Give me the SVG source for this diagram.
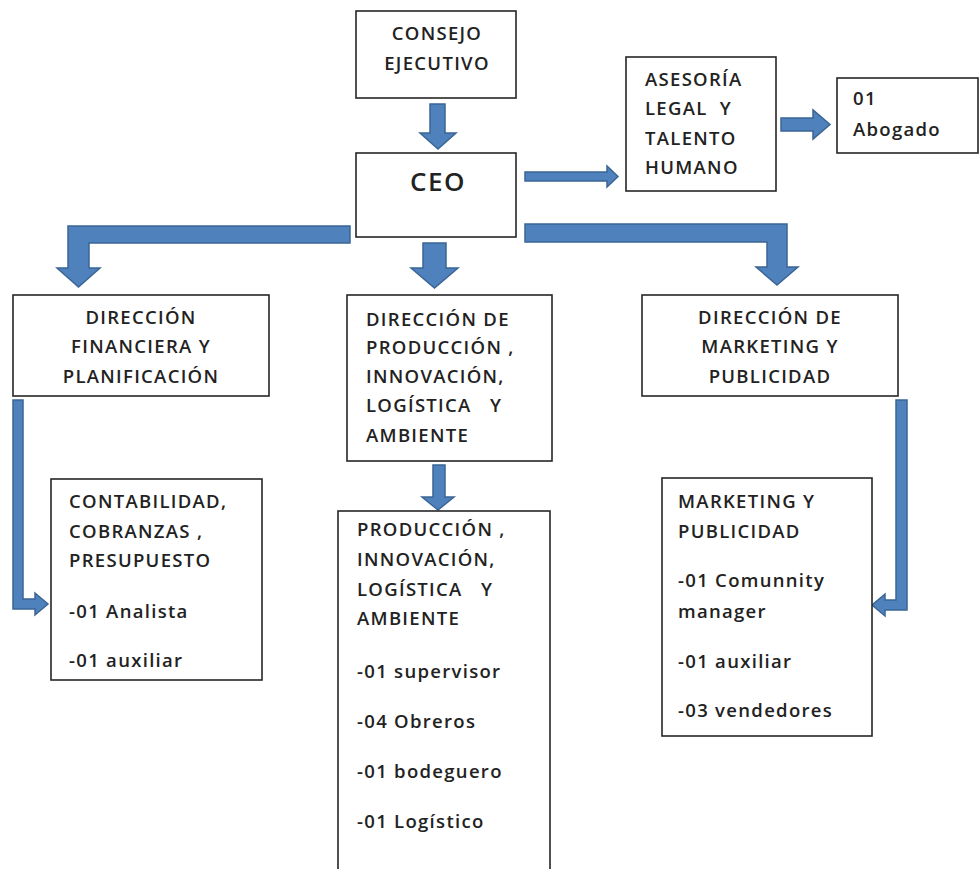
<svg xmlns="http://www.w3.org/2000/svg" width="979" height="869" viewBox="0 0 979 869">
<style>
.box{fill:#fff;stroke:#262626;stroke-width:1.6}
.t{font-family:"Open Sans","Noto Sans",sans-serif;font-size:18.5px;font-weight:600;letter-spacing:1.3px;fill:#222}
.c{text-anchor:middle}
.arr{fill:#4F81BD;stroke:#3A6595;stroke-width:1.5;stroke-linejoin:miter}
</style>
<rect width="979" height="869" fill="#fff"/>
<g id="connectors">
<polygon class="arr" points="430,104 445,104 445,133 456,133 438,149 420,133 430,133"/>
<polygon class="arr" points="525,172 607,172 607,166 618,176.5 607,187 607,181 525,181"/>
<polygon class="arr" points="781,118 813,118 813,110 830,124.5 813,139 813,131 781,131"/>
<polygon class="arr" points="350,226 68,226 68,268 57,268 78.5,287 100,268 89,268 89,243 350,243"/>
<polygon class="arr" points="423,243 446,243 446,268 458,268 434.5,288 411,268 423,268"/>
<polygon class="arr" points="525,224 787,224 787,267 798,267 777,285 756,267 767,267 767,242 525,242"/>
<polygon class="arr" points="433,465 445,465 445,497 454,497 438,510 422,497 433,497"/>
<polygon class="arr" points="13,400 23,400 23,599 35,599 35,593 48,604 35,615 35,609 13,609"/>
<polygon class="arr" points="896,400 907,400 907,610 885,610 885,616 872,605 885,594 885,600 896,600"/>
</g>
<g id="consejo">
<rect class="box" x="356" y="11" width="160" height="87"/>
<text class="t c" x="437" y="40">CONSEJO</text>
<text class="t c" x="437" y="70">EJECUTIVO</text>
</g>
<g id="ceo">
<rect class="box" x="356" y="153" width="160" height="84"/>
<text class="t c" x="438" y="191" style="font-size:26px;letter-spacing:1.5px">CEO</text>
</g>
<g id="asesoria">
<rect class="box" x="626" y="57" width="150" height="134"/>
<text class="t" x="645" y="86">ASESORÍA</text>
<text class="t" x="645" y="115" xml:space="preserve">LEGAL  Y</text>
<text class="t" x="645" y="145">TALENTO</text>
<text class="t" x="645" y="174">HUMANO</text>
</g>
<g id="abogado">
<rect class="box" x="837" y="78" width="141" height="75"/>
<text class="t" x="853" y="105">01</text>
<text class="t" x="853" y="136">Abogado</text>
</g>
<g id="dir-fin">
<rect class="box" x="13" y="295" width="256" height="101"/>
<text class="t c" x="141" y="324">DIRECCIÓN</text>
<text class="t c" x="141" y="353">FINANCIERA Y</text>
<text class="t c" x="141" y="383">PLANIFICACIÓN</text>
</g>
<g id="dir-prod">
<rect class="box" x="347" y="295" width="205" height="166"/>
<text class="t" x="366" y="326">DIRECCIÓN DE</text>
<text class="t" x="366" y="354">PRODUCCIÓN ,</text>
<text class="t" x="366" y="383">INNOVACIÓN,</text>
<text class="t" x="366" y="412" xml:space="preserve">LOGÍSTICA   Y</text>
<text class="t" x="366" y="442">AMBIENTE</text>
</g>
<g id="dir-mkt">
<rect class="box" x="642" y="295" width="256" height="101"/>
<text class="t c" x="770" y="324">DIRECCIÓN DE</text>
<text class="t c" x="770" y="353">MARKETING Y</text>
<text class="t c" x="770" y="383">PUBLICIDAD</text>
</g>
<g id="contabilidad">
<rect class="box" x="51" y="479" width="211" height="201"/>
<text class="t" x="69" y="508">CONTABILIDAD,</text>
<text class="t" x="69" y="538">COBRANZAS ,</text>
<text class="t" x="69" y="567">PRESUPUESTO</text>
<text class="t" x="69" y="618">-01 Analista</text>
<text class="t" x="69" y="667">-01 auxiliar</text>
</g>
<g id="produccion">
<rect class="box" x="338" y="511" width="212" height="380"/>
<text class="t" x="357" y="536">PRODUCCIÓN ,</text>
<text class="t" x="357" y="566">INNOVACIÓN,</text>
<text class="t" x="357" y="596" xml:space="preserve">LOGÍSTICA   Y</text>
<text class="t" x="357" y="625">AMBIENTE</text>
<text class="t" x="357" y="678">-01 supervisor</text>
<text class="t" x="357" y="728">-04 Obreros</text>
<text class="t" x="357" y="778">-01 bodeguero</text>
<text class="t" x="357" y="828">-01 Logístico</text>
</g>
<g id="marketing">
<rect class="box" x="662" y="478" width="210" height="258"/>
<text class="t" x="678" y="508">MARKETING Y</text>
<text class="t" x="678" y="538">PUBLICIDAD</text>
<text class="t" x="678" y="587">-01 Comunnity</text>
<text class="t" x="678" y="618">manager</text>
<text class="t" x="678" y="668">-01 auxiliar</text>
<text class="t" x="678" y="717">-03 vendedores</text>
</g>
</svg>
